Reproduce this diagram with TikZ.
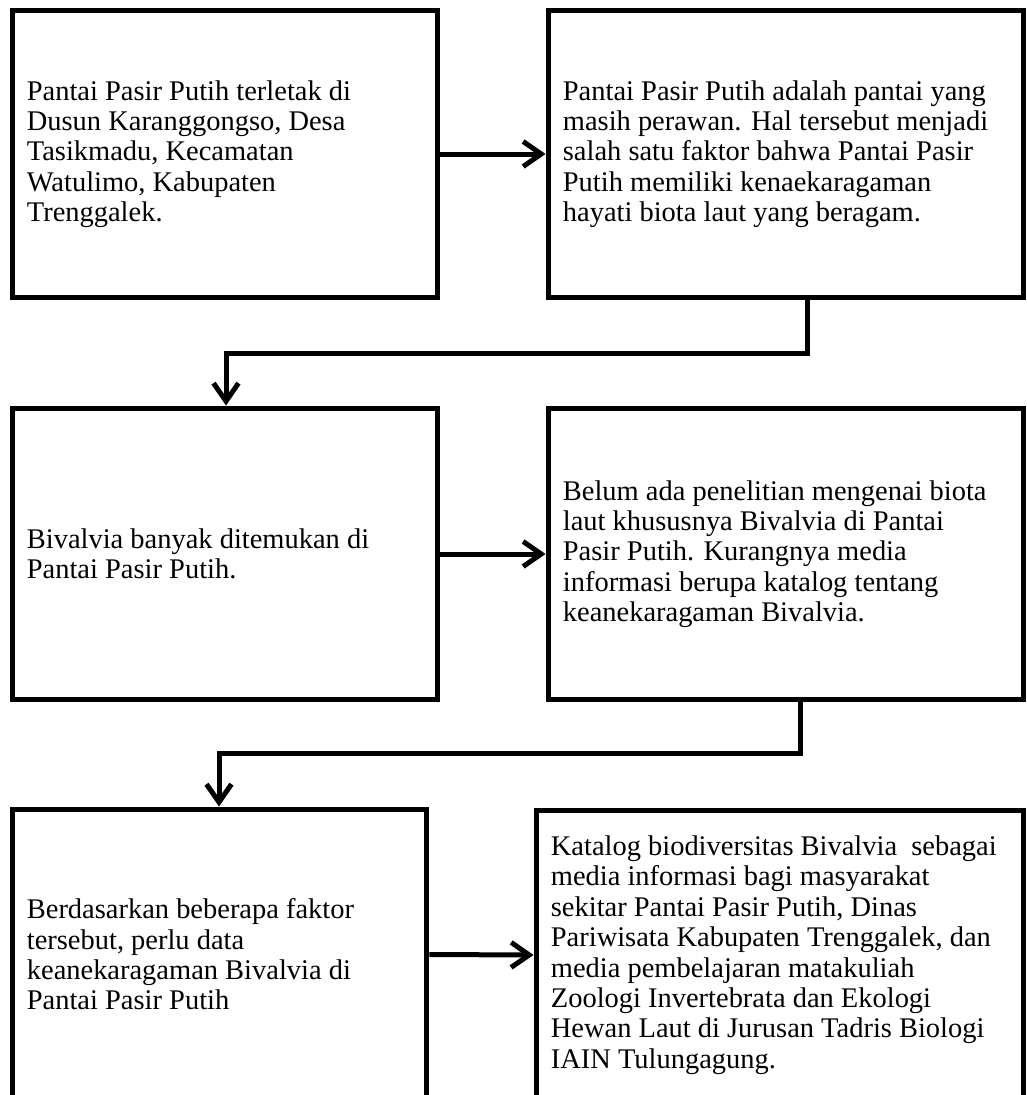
\documentclass[tikz,border=0pt]{standalone}
\usepackage{fontspec}
\setmainfont{Liberation Serif}
\usetikzlibrary{arrows.meta}

\begin{document}
\begin{tikzpicture}[x=0.02cm, y=-0.02cm]
\tikzset{kotak/.style={draw, line width=0.1cm, rectangle, anchor=center},
teks/.style={anchor=west, align=left, inner sep=0pt, xshift=0.34cm, font=\fontsize{16.2}{17.3}\selectfont},
panah/.style={line width=0.1cm, -{Straight Barb[length=0.36cm, width=0.5cm, line width=0.1cm]}}}
\useasboundingbox (0, 0) rectangle (1027, 1095);
\clip (0, 0) rectangle (1027, 1095);
\node[kotak, minimum width=8.52cm, minimum height=5.76cm] (B1) at (225, 154) {};
\node[kotak, minimum width=9.52cm, minimum height=5.76cm] (B2) at (786, 154) {};
\node[kotak, minimum width=8.52cm, minimum height=5.84cm] (B3) at (225, 554) {};
\node[kotak, minimum width=9.52cm, minimum height=5.84cm] (B4) at (786, 554) {};
\node[kotak, minimum width=8.3cm, minimum height=5.82cm] (B5) at (219.5, 954.5) {};
\node[kotak, minimum width=9.76cm, minimum height=5.8cm] (B6) at (780, 955) {};
\node[teks] (T1) at (B1.west) {Pantai Pasir Putih terletak di\\ Dusun Karanggongso, Desa\\ Tasikmadu, Kecamatan\\ Watulimo, Kabupaten\\ Trenggalek.};
\node[teks] (T2) at (B2.west) {Pantai Pasir Putih adalah pantai yang\\ masih perawan. Hal tersebut menjadi\\ salah satu faktor bahwa Pantai Pasir\\ Putih memiliki kenaekaragaman\\ hayati biota laut yang beragam.};
\node[teks] (T3) at (B3.west) {Bivalvia banyak ditemukan di\\ Pantai Pasir Putih.};
\node[teks] (T4) at (B4.west) {Belum ada penelitian mengenai biota\\ laut khususnya Bivalvia di Pantai\\ Pasir Putih. Kurangnya media\\ informasi berupa katalog tentang\\ keanekaragaman Bivalvia.};
\node[teks] (T5) at (B5.west) {Berdasarkan beberapa faktor\\ tersebut, perlu data\\ keanekaragaman Bivalvia di\\ Pantai Pasir Putih};
\node[teks] (T6) at (B6.west) {Katalog biodiversitas Bivalvia~ sebagai\\ media informasi bagi masyarakat\\ sekitar Pantai Pasir Putih, Dinas\\ Pariwisata Kabupaten Trenggalek, dan\\ media pembelajaran matakuliah\\ Zoologi Invertebrata dan Ekologi\\ Hewan Laut di Jurusan Tadris Biologi\\ IAIN Tulungagung.};
\coordinate (K1) at (226, 353);
\coordinate (K2) at (219, 753);
\draw[panah] (B1.east) -- (B2.west);
\draw[panah] (B3.east) -- (B4.west);
\draw[panah] (B5.east) -- (B6.west);
\draw[panah] ([xshift=0.42cm]B2.south) |- (K1) -- (K1 |- B3.north);
\draw[panah] ([xshift=0.28cm]B4.south) |- (K2) -- (K2 |- B5.north);
\end{tikzpicture}
\end{document}
